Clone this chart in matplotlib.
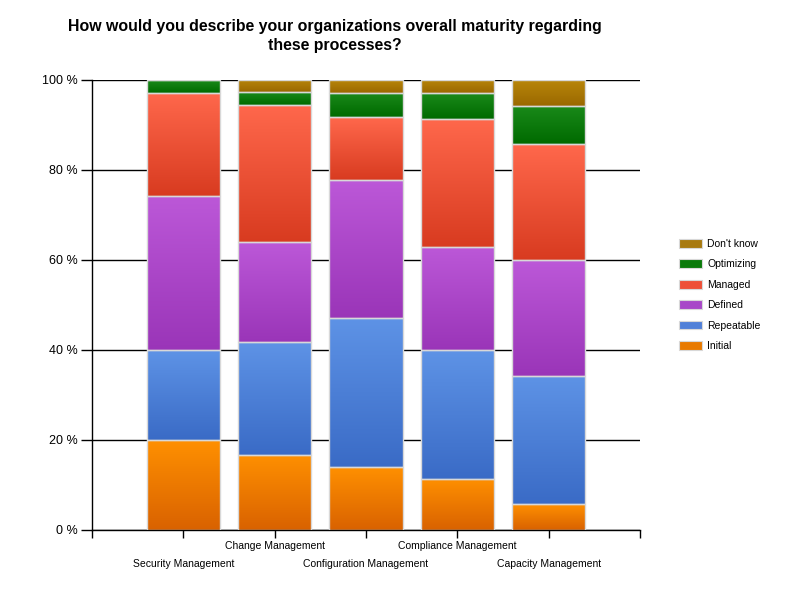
import numpy as np
import matplotlib
matplotlib.use('Agg')
import matplotlib.pyplot as plt
from matplotlib.colors import LinearSegmentedColormap
from matplotlib.patches import Patch
from matplotlib.ticker import FuncFormatter

plt.rcParams['font.family'] = ['Liberation Sans', 'DejaVu Sans']

categories = ['Security Management', 'Change Management', 'Configuration Management',
              'Compliance Management', 'Capacity Management']
series = ['Initial', 'Repeatable', 'Defined', 'Managed', 'Optimizing', "Don't know"]

# percent of respondents per category
initial = [20.0, 16.7, 13.9, 11.4, 5.7]
repeatable = [20.0, 25.0, 33.3, 28.6, 28.6]
defined = [34.3, 22.2, 30.6, 22.9, 25.7]
managed = [22.9, 30.6, 13.9, 28.5, 25.7]
optimizing = [2.8, 2.8, 5.5, 5.7, 8.6]
dont_know = [0.0, 2.7, 2.8, 2.9, 5.7]
values = [initial, repeatable, defined, managed, optimizing, dont_know]

# (bottom, top) gradient colours
grad_colors = [('#D96200', '#FF9000'),
               ('#3A6BC6', '#5E93E6'),
               ('#9A35B8', '#BC58D8'),
               ('#D83B20', '#FF684C'),
               ('#006A00', '#1A8A1A'),
               ('#9A6800', '#B8860A')]
legend_colors = ['#E87A00', '#5080D8', '#A848C8', '#EE5038', '#0A7A0A', '#A87A10']

fig = plt.figure(figsize=(8, 6), dpi=100)
ax = fig.add_axes([92 / 800, 70 / 600, 548 / 800, 450 / 600])

x = np.arange(1, len(categories) + 1)
bottom = np.zeros(len(categories))
grad = np.linspace(0, 1, 256).reshape(-1, 1)
for vals, (c0, c1) in zip(values, grad_colors):
    cmap = LinearSegmentedColormap.from_list('g', [c0, c1])
    bars = ax.bar(x, vals, width=0.8, bottom=bottom, facecolor='none',
                  edgecolor='#D8D8D8', linewidth=1.0, zorder=3)
    for b in bars:
        if b.get_height() <= 0:
            continue
        x0, y0 = b.get_x(), b.get_y()
        ax.imshow(grad, extent=[x0, x0 + b.get_width(), y0, y0 + b.get_height()],
                  origin='lower', cmap=cmap, aspect='auto', zorder=2,
                  interpolation='bilinear')
    bottom += np.array(vals)

ax.set_xlim(0, len(categories) + 1)
ax.set_ylim(0, 100)
ax.set_yticks(np.arange(0, 101, 20))
ax.yaxis.set_major_formatter(FuncFormatter(lambda v, p: '%d %%' % v))
ax.set_xticks(np.arange(0, len(categories) + 2))
ax.set_xticklabels([''] + categories + [''])

ax.set_axisbelow(True)
ax.yaxis.grid(True, color='black', linewidth=1.0)
for s in ['top', 'right']:
    ax.spines[s].set_visible(False)
for s in ['left', 'bottom']:
    ax.spines[s].set_linewidth(1.0)
ax.tick_params(axis='y', length=8, width=1.0, labelsize=9, pad=2)
ax.tick_params(axis='x', length=6, width=1.0, labelsize=7.5)
for i, tick in enumerate(ax.xaxis.get_major_ticks()):
    tick.set_pad(2 if i % 2 == 0 else 15)

fig.text(335 / 800, 1 - 19 / 600,
         'How would you describe your organizations overall maturity regarding\nthese processes?',
         ha='center', va='top', fontsize=11.4, fontweight='bold', linespacing=1.35)

handles = [Patch(facecolor=c, edgecolor='#D8D8D8', linewidth=0.8) for c in legend_colors]
fig.legend(handles[::-1], series[::-1], loc='center left',
           bbox_to_anchor=(674 / 800, 1 - 295 / 600), frameon=False, fontsize=7.5,
           handlelength=2.2, handleheight=0.9, handletextpad=0.5, labelspacing=1.0,
           borderpad=0)

fig.savefig('out.png', dpi=100)
